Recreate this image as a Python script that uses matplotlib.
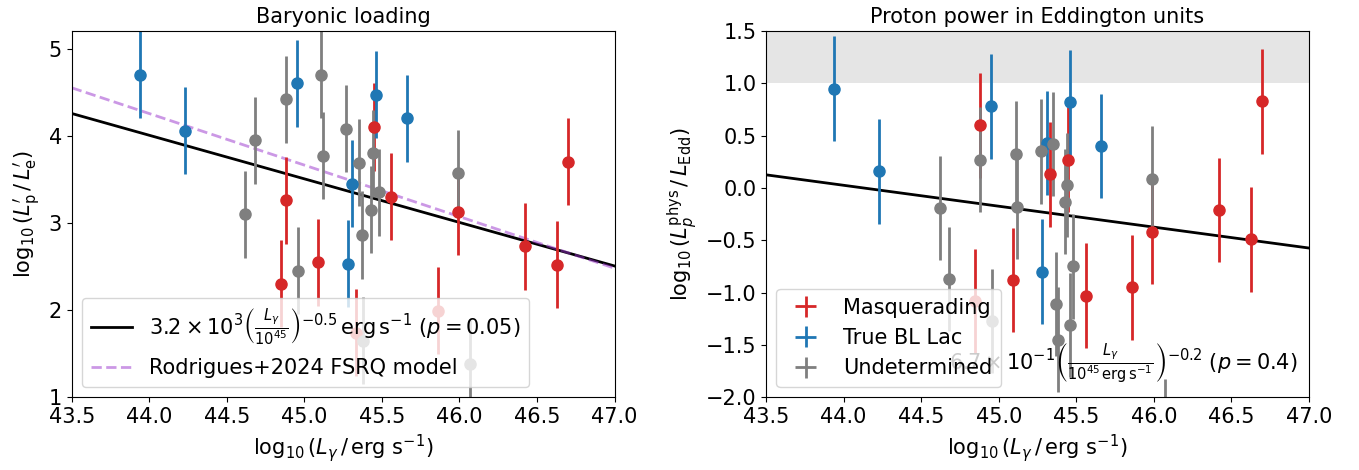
import numpy as np
import matplotlib
matplotlib.use("Agg")
import matplotlib.pyplot as plt

plt.rcParams['font.size'] = 15

# log10 L_gamma per source, split by classification
red_x = [44.85, 44.88, 45.09, 45.33, 45.45, 45.56, 45.86, 45.99, 46.42, 46.63, 46.70]
red_baryon = [2.30, 3.26, 2.55, 1.74, 4.10, 3.30, 1.99, 3.13, 2.73, 2.52, 3.70]
red_edd = [-1.08, 0.60, -0.88, 0.13, 0.27, -1.03, -0.95, -0.42, -0.21, -0.49, 0.83]

blue_x = [43.94, 44.23, 44.95, 45.28, 45.31, 45.46, 45.66]
blue_baryon = [4.70, 4.06, 4.60, 2.53, 3.45, 4.47, 4.20]
blue_edd = [0.95, 0.16, 0.78, -0.80, 0.43, 0.82, 0.40]

grey_x = [44.62, 44.68, 44.88, 44.96, 45.11, 45.12, 45.27, 45.35, 45.37, 45.38,
          45.43, 45.44, 45.46, 45.48, 45.99, 46.07]
grey_baryon = [3.10, 3.95, 4.42, 2.45, 4.70, 3.77, 4.08, 3.69, 2.86, 1.65,
               3.15, 3.80, np.nan, 3.35, 3.57, 1.38]
grey_edd = [-0.19, -0.87, 0.27, -1.27, 0.33, -0.18, 0.35, 0.42, -1.11, -1.45,
            -0.13, 0.03, -1.31, -0.75, 0.09, -2.33]

err = 0.5

# power-law fits: normalisation, index, p-value
fit_baryon = (3.2e3, -0.5, 0.05)
fit_edd = (6.7e-1, -0.2, 0.4)

# Rodrigues+2024 FSRQ model (log10 L_gamma, log10 L'p/L'e)
model_x = [43.5, 47.0]
model_y = [4.55, 2.48]

groups = [
    ("Masquerading", "tab:red", red_x, red_baryon, red_edd),
    ("True BL Lac", "tab:blue", blue_x, blue_baryon, blue_edd),
    ("Undetermined", "tab:gray", grey_x, grey_baryon, grey_edd),
]

fig = plt.figure(figsize=(13.59, 4.70), dpi=100)
ax1 = fig.add_axes([0.0528, 0.155, 0.3994, 0.7787])
ax2 = fig.add_axes([0.5637, 0.155, 0.3994, 0.7787])

xx = np.linspace(43.5, 47.0, 50)

# --- left: baryonic loading
norm, idx, p = fit_baryon
ax1.plot(xx, np.log10(norm) + idx * (xx - 45), color="k", lw=2,
         label=r"$3.2\times10^{3}\left(\frac{L_\gamma}{10^{45}}\right)^{-0.5}\,\mathrm{erg\,s^{-1}}$ ($p=0.05$)")
ax1.plot(model_x, model_y, ls="--", color="darkorchid", alpha=0.5, lw=2,
         label="Rodrigues+2024 FSRQ model")
for name, c, x, yb, ye in groups:
    ax1.errorbar(x, yb, yerr=err, fmt="o", color=c, ms=8, elinewidth=2)
ax1.set_xlim(43.5, 47.0)
ax1.set_ylim(1, 5.2)
ax1.set_xticks(np.arange(43.5, 47.01, 0.5))
ax1.set_yticks([1, 2, 3, 4, 5])
ax1.set_title("Baryonic loading", fontsize=15)
ax1.set_xlabel(r"$\log_{10}(L_\gamma\,/\,\mathrm{erg\ s^{-1}})$")
ax1.set_ylabel(r"$\log_{10}(L^{\prime}_\mathrm{p}\,/\,L^{\prime}_\mathrm{e})$")
ax1.legend(loc="lower left")

# --- right: proton power in Eddington units
ax2.axhspan(1.0, 1.5, color="gray", alpha=0.2, lw=0)
norm, idx, p = fit_edd
ax2.plot(xx, np.log10(norm) + idx * (xx - 45), color="k", lw=2)
handles = []
for name, c, x, yb, ye in groups:
    ax2.errorbar(x, ye, yerr=err, fmt="o", color=c, ms=8, elinewidth=2)
    h = ax2.errorbar([np.nan], [np.nan], xerr=1, yerr=1, fmt="none",
                     color=c, elinewidth=2, label=name)
    handles.append(h)
ax2.text(0.98, 0.03,
         r"$6.7\times10^{-1}\left(\frac{L_\gamma}{10^{45}\,\mathrm{erg\,s^{-1}}}\right)^{-0.2}$ ($p=0.4$)",
         transform=ax2.transAxes, ha="right", va="bottom")
ax2.set_xlim(43.5, 47.0)
ax2.set_ylim(-2.0, 1.5)
ax2.set_xticks(np.arange(43.5, 47.01, 0.5))
ax2.set_yticks(np.arange(-2.0, 1.51, 0.5))
ax2.set_title("Proton power in Eddington units", fontsize=15)
ax2.set_xlabel(r"$\log_{10}(L_\gamma\,/\,\mathrm{erg\ s^{-1}})$")
ax2.set_ylabel(r"$\log_{10}(L_p^\mathrm{phys}\,/\,L_\mathrm{Edd})$")
ax2.legend(handles=handles, loc="lower left")

fig.savefig("out.png", dpi=100)
